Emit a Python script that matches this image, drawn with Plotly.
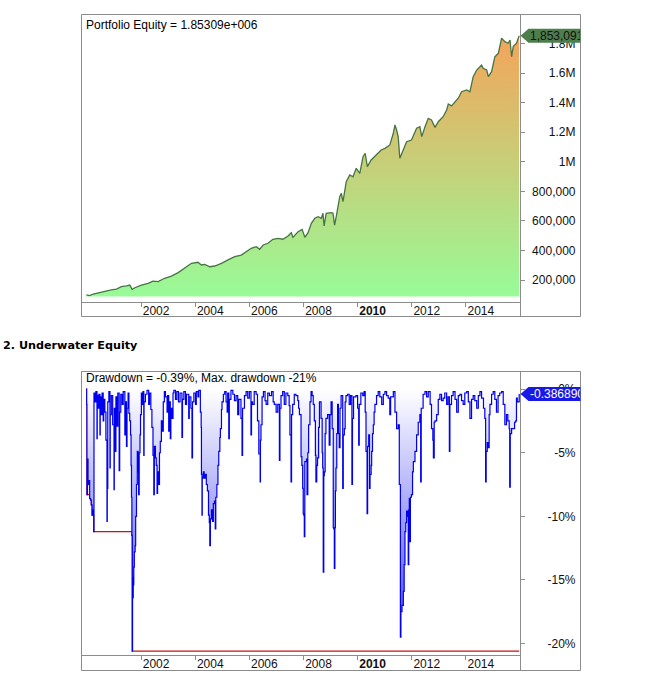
import numpy as np
import plotly.graph_objects as go

# ---------------- data ----------------
EQ_YEARS = [1999.98, 2000.10, 2000.23, 2000.41, 2000.66, 2000.90, 2001.09, 2001.27, 2001.46, 2001.58,
            2001.67, 2001.77, 2002.01, 2002.26, 2002.44, 2002.63, 2002.87, 2003.12, 2003.37, 2003.61,
            2003.86, 2004.10, 2004.23, 2004.35, 2004.54, 2004.72, 2004.97, 2005.21, 2005.46, 2005.70,
            2005.89, 2006.07, 2006.26, 2006.38, 2006.51, 2006.69, 2006.87, 2007.06, 2007.24, 2007.43,
            2007.55, 2007.61, 2007.80, 2007.95, 2008.05, 2008.17, 2008.29, 2008.42, 2008.54, 2008.66,
            2008.72, 2008.76, 2008.84, 2009.03, 2009.09, 2009.15, 2009.21, 2009.34, 2009.40, 2009.46,
            2009.58, 2009.71, 2009.83, 2009.95, 2010.08, 2010.20, 2010.28, 2010.36, 2010.50, 2010.69,
            2010.87, 2011.01, 2011.19, 2011.32, 2011.38, 2011.44, 2011.50, 2011.56, 2011.69, 2011.81,
            2011.99, 2012.18, 2012.30, 2012.37, 2012.49, 2012.61, 2012.73, 2012.86, 2012.98, 2013.16,
            2013.29, 2013.35, 2013.47, 2013.60, 2013.72, 2013.84, 2014.03, 2014.15, 2014.27, 2014.40,
            2014.58, 2014.64, 2014.77, 2014.83, 2014.95, 2015.07, 2015.20, 2015.32, 2015.44, 2015.56,
            2015.63, 2015.69, 2015.75, 2015.87, 2015.97]
EQ_VALUES = [100000, 95000, 105500, 114000, 121000, 133000, 139000, 155000, 160000, 166000,
             137000, 148000, 166000, 178000, 193000, 189000, 212000, 227000, 250000, 279000,
             313000, 320000, 302000, 306000, 290000, 295000, 313000, 336000, 358000, 369000,
             392000, 415000, 426000, 408000, 437000, 449000, 476000, 482000, 476000, 498000,
             520000, 489000, 527000, 543000, 489000, 520000, 584000, 618000, 629000, 618000,
             652000, 566000, 652000, 656000, 652000, 572000, 629000, 764000, 787000, 730000,
             865000, 911000, 899000, 956000, 922000, 1035000, 1058000, 967000, 1012000, 1046000,
             1080000, 1091000, 1114000, 1193000, 1249000, 1215000, 1170000, 1024000, 1080000, 1136000,
             1147000, 1227000, 1237000, 1170000, 1237000, 1294000, 1283000, 1233000, 1271000, 1305000,
             1350000, 1391000, 1378000, 1407000, 1430000, 1474000, 1486000, 1474000, 1576000, 1621000,
             1655000, 1633000, 1621000, 1576000, 1610000, 1711000, 1734000, 1836000, 1813000, 1802000,
             1824000, 1711000, 1779000, 1802000, 1853091]

DD_YEARS = [
    1999.97, 1999.99, 2000.00, 2000.02, 2000.04, 2000.07, 2000.10, 2000.13, 2000.16, 2000.19, 2000.22, 2000.25,
    2000.26, 2000.30, 2000.33, 2000.37, 2000.38, 2000.41, 2000.44, 2000.48, 2000.49, 2000.53, 2000.56, 2000.60,
    2000.62, 2000.66, 2000.70, 2000.74, 2000.75, 2000.77, 2000.81, 2000.85, 2000.86, 2000.90, 2000.95, 2001.00,
    2001.01, 2001.05, 2001.07, 2001.11, 2001.14, 2001.19, 2001.21, 2001.25, 2001.30, 2001.34, 2001.40, 2001.43,
    2001.46, 2001.48, 2001.52, 2001.55,
    2001.58, 2001.61, 2001.63, 2001.645, 2001.66, 2001.675, 2001.685, 2001.695, 2001.71, 2001.73, 2001.75, 2001.78,
    2001.80, 2001.83, 2001.86, 2001.89, 2001.91, 2001.93, 2001.96, 2001.98,
    2002.01, 2002.04, 2002.07, 2002.10, 2002.11, 2002.16, 2002.22, 2002.28, 2002.31, 2002.36, 2002.40, 2002.44,
    2002.47, 2002.49, 2002.53, 2002.56, 2002.59, 2002.61, 2002.65, 2002.68, 2002.71, 2002.75, 2002.78, 2002.82,
    2002.86, 2002.90, 2002.96, 2002.98, 2003.02, 2003.04, 2003.08, 2003.10, 2003.14, 2003.18, 2003.21, 2003.27,
    2003.32, 2003.38, 2003.44, 2003.51, 2003.53, 2003.58, 2003.64, 2003.68, 2003.76, 2003.78, 2003.84, 2003.88,
    2003.90, 2003.95, 2004.01, 2004.04, 2004.10, 2004.13, 2004.19,
    2004.22, 2004.23, 2004.25, 2004.26, 2004.30, 2004.33, 2004.37, 2004.41, 2004.45, 2004.49, 2004.52, 2004.54,
    2004.56, 2004.60, 2004.64, 2004.67, 2004.71, 2004.74, 2004.76, 2004.80, 2004.84, 2004.87, 2004.91, 2004.93,
    2004.97, 2004.99, 2005.04, 2005.09, 2005.14, 2005.18,
    2005.20, 2005.24, 2005.26, 2005.32, 2005.39, 2005.45, 2005.51, 2005.57, 2005.61, 2005.69, 2005.73, 2005.75,
    2005.82, 2005.88, 2005.94, 2006.00, 2006.06, 2006.08, 2006.12, 2006.18, 2006.25, 2006.30, 2006.35, 2006.40,
    2006.41, 2006.43, 2006.47, 2006.52, 2006.58, 2006.62, 2006.68, 2006.74, 2006.82, 2006.88, 2006.92, 2006.99,
    2007.05, 2007.11, 2007.13, 2007.17, 2007.23, 2007.29, 2007.35, 2007.42, 2007.47, 2007.50, 2007.54, 2007.56,
    2007.60, 2007.66, 2007.72, 2007.79, 2007.82, 2007.85, 2007.91, 2007.94, 2007.97, 2007.99, 2008.01, 2008.03,
    2008.05, 2008.09, 2008.11, 2008.13, 2008.16, 2008.19, 2008.24, 2008.28, 2008.32, 2008.36, 2008.40, 2008.44,
    2008.46, 2008.49, 2008.52, 2008.56, 2008.59, 2008.65, 2008.69, 2008.71, 2008.73, 2008.75, 2008.77, 2008.80,
    2008.83, 2008.89, 2008.95, 2008.98, 2009.02, 2009.06, 2009.08, 2009.10, 2009.12, 2009.14, 2009.16, 2009.18,
    2009.20, 2009.23, 2009.26, 2009.29, 2009.32, 2009.35, 2009.39, 2009.45, 2009.47, 2009.51, 2009.54, 2009.57,
    2009.63, 2009.69, 2009.74, 2009.79, 2009.81, 2009.85, 2009.94, 2010.00, 2010.04, 2010.06, 2010.12, 2010.19,
    2010.24, 2010.28, 2010.31, 2010.35, 2010.37, 2010.41, 2010.44, 2010.46,
    2010.50, 2010.52, 2010.55, 2010.58, 2010.61, 2010.64, 2010.70, 2010.76, 2010.82, 2010.89, 2010.95, 2011.01,
    2011.07, 2011.13, 2011.19, 2011.22, 2011.32, 2011.38, 2011.44, 2011.50, 2011.54, 2011.58, 2011.60, 2011.64,
    2011.69, 2011.72, 2011.75, 2011.78, 2011.81, 2011.85, 2011.87, 2011.89, 2011.91, 2011.93, 2011.95, 2011.99,
    2012.03, 2012.06, 2012.12, 2012.18, 2012.24, 2012.30, 2012.33, 2012.35, 2012.42, 2012.49, 2012.55, 2012.61,
    2012.68, 2012.73, 2012.78, 2012.80, 2012.83, 2012.86, 2012.92, 2012.98, 2013.04, 2013.10, 2013.16, 2013.22,
    2013.29, 2013.34, 2013.39, 2013.41, 2013.47, 2013.53, 2013.60, 2013.66, 2013.72, 2013.78, 2013.84, 2013.90,
    2013.96, 2014.03, 2014.09, 2014.15, 2014.21, 2014.27, 2014.33, 2014.40, 2014.46, 2014.52, 2014.58, 2014.65,
    2014.70, 2014.73, 2014.75, 2014.79, 2014.83, 2014.86, 2014.89, 2014.95, 2015.01, 2015.07, 2015.13, 2015.19,
    2015.25, 2015.32, 2015.38, 2015.44, 2015.50, 2015.55, 2015.60, 2015.62, 2015.64, 2015.69, 2015.75, 2015.80,
    2015.84, 2015.87, 2015.90, 2015.97]
DD_VALUES = [
    0.0, -1.2, -8.3, -5.5, -7.5, -7.2, -8.6, -8.7, -9.1, -9.9, -9.5, -11.2,
    -0.3, -1.0, -0.2, -3.9, -0.5, -1.5, -0.4, -3.6, -0.6, -2.0, -0.3, -2.5,
    -0.8, -1.8, -4.0, -10.4, -7.8, -1.0, -0.2, -6.2, -2.0, -0.5, -2.8, -7.9,
    -1.5, -4.9, -0.6, -2.9, -0.3, -6.4, -1.8, -0.4, -1.2, -0.2, -3.6, -1.0,
    -4.5, -1.5, -0.3, -1.9,
    -2.5, -3.6, -6.0, -8.5, -11.5, -20.6, -14.8, -16.4, -15.4, -14.0, -12.8, -12.3,
    -10.0, -7.5, -4.9, -6.5, -8.3, -5.0, -3.6, -2.0,
    -0.3, -1.2, -0.2, -5.2, -1.0, -0.4, -0.1, -1.2, -0.3, -1.6, -3.0, -5.2,
    -8.3, -4.5, -5.4, -6.0, -8.2, -6.5, -7.5, -5.0, -4.1, -2.5, -3.3, -1.0,
    -0.2, -0.6, -1.8, -0.5, -3.3, -1.0, -3.9, -1.5, -2.3, -0.3, -0.1, -0.8,
    -0.2, -1.0, -0.3, -3.8, -0.8, -0.2, -1.2, -0.4, -2.3, -0.6, -1.5, -5.4,
    -1.0, -0.3, -1.2, -0.2, -0.6, -0.1, -1.8,
    -3.0, -6.7, -9.9, -7.0, -6.5, -7.0, -6.7, -7.5, -8.0, -9.9, -10.5, -12.3,
    -10.2, -9.5, -10.4, -9.0, -8.8, -11.0, -8.5, -7.5, -6.0, -4.9, -3.8, -3.1,
    -1.6, -1.0, -0.4, -0.2, -1.0, -1.8,
    -0.3, -3.9, -0.8, -0.1, -0.4, -0.9, -0.5, -2.0, -0.8, -2.3, -5.2, -1.5,
    -0.5, -0.2, -0.7, -0.2, -3.6, -1.0, -1.2, -0.2, -0.4, -2.5, -5.1, -7.3,
    -4.0, -2.8, -0.6, -0.2, -0.9, -1.2, -0.3, -0.5, -0.2, -1.0, -1.2, -1.8,
    -1.2, -5.6, -1.5, -0.5, -0.2, -1.2, -0.3, -0.5, -1.3, -3.6, -7.3, -2.0,
    -1.2, -0.4, -0.5, -0.9, -1.5, -2.0, -5.3, -6.0, -7.8, -9.8, -9.9, -11.6,
    -5.7, -5.7, -5.5, -8.3, -5.0, -2.8, -1.0, -0.2, -0.5, -1.2, -2.5, -5.2,
    -7.3, -6.0, -5.4, -3.0, -1.0, -2.3, -5.0, -6.2, -14.4, -6.8, -6.5, -3.5,
    -2.3, -2.0, -4.4, -2.0, -1.0, -3.1, -3.1, -10.9, -11.0, -14.1, -10.9, -8.0,
    -6.2, -3.5, -1.2, -3.5, -4.6, -1.5, -0.5, -7.8, -3.6, -3.1, -1.0, -0.5,
    -0.4, -1.2, -0.5, -7.5, -2.3, -0.6, -0.5, -1.5, -4.4, -1.2, -0.3, -0.5,
    -0.2, -1.8, -4.9, -9.8, -4.5, -3.6, -7.8, -6.7,
    -6.0, -4.9, -3.5, -2.8, -1.8, -1.2, -0.5, -0.2, -0.6, -1.2, -0.4, -0.2,
    -0.5, -0.7, -2.0, -0.6, -0.2, -1.8, -3.1, -2.8, -7.5, -19.5, -17.5, -17.0,
    -15.9, -13.8, -11.2, -10.5, -9.6, -10.0, -13.8, -9.5, -8.6, -12.0, -8.5, -8.3,
    -6.5, -5.7, -4.9, -3.6, -2.6, -2.0, -7.3, -1.5, -0.4, -0.2, -0.6, -0.2,
    -1.2, -3.1, -4.0, -5.4, -2.6, -2.5, -2.0, -0.8, -0.4, -0.9, -0.7, -0.3,
    -1.2, -0.6, -4.9, -1.2, -0.5, -0.2, -0.8, -1.8, -0.5, -0.4, -0.9, -1.2,
    -0.3, -0.2, -1.0, -2.3, -0.8, -0.5, -0.9, -1.5, -0.5, -0.2, -0.7, -1.5,
    -2.3, -7.3, -4.9, -4.2, -4.6, -2.0, -1.2, -0.4, -0.2, -0.8, -1.8, -0.5,
    -0.3, -0.2, -1.2, -2.8, -2.0, -2.5, -3.1, -7.7, -3.5, -3.1, -3.1, -2.6,
    -2.5, -0.7, -1.0, -0.38689]

YEAR_TICKS = [2002, 2004, 2006, 2008, 2010, 2012, 2014]
YEAR_LABELS = ["2002", "2004", "2006", "2008", "<b>2010</b>", "2012", "2014"]
EQ_TICKS = [200000, 400000, 600000, 800000, 1000000, 1200000, 1400000, 1600000, 1800000]
EQ_TICK_LABELS = ["200,000", "400,000", "600,000", "800,000", "1M", "1.2M", "1.4M", "1.6M", "1.8M"]
DD_TICKS = [-20, -15, -10, -5, 0]
DD_TICK_LABELS = ["-20%", "-15%", "-10%", "-5%", "0%"]

assert len(EQ_YEARS) == len(EQ_VALUES)
assert len(DD_YEARS) == len(DD_VALUES), (len(DD_YEARS), len(DD_VALUES))

# ---------------- layout helpers ----------------
W, H = 660, 682
def PX(x):
    return x / W
def PY(y):
    return 1 - y / H

FONT = "Liberation Sans, Arial, sans-serif"
GRAY = "#8c8c8c"
X_RANGE = [1999.78, 2016.0]

fig = go.Figure()

# Equity area
base = min(EQ_VALUES) * 0.93
fig.add_trace(go.Scatter(x=EQ_YEARS, y=[base] * len(EQ_YEARS), mode="lines",
                         line=dict(width=0), hoverinfo="skip", showlegend=False,
                         xaxis="x", yaxis="y"))
fig.add_trace(go.Scatter(x=EQ_YEARS, y=EQ_VALUES, mode="lines",
                         line=dict(color="#467444", width=1.3),
                         fill="tonexty",
                         fillgradient=dict(type="vertical",
                                           colorscale=[[0, "#98FB98"], [1, "#F4A45A"]],
                                           start=base, stop=max(EQ_VALUES)),
                         showlegend=False, xaxis="x", yaxis="y"))
# helper traces for label axes
fig.add_trace(go.Scatter(x=[EQ_YEARS[-1]], y=[EQ_VALUES[-1]], mode="markers",
                         marker=dict(opacity=0), hoverinfo="skip", showlegend=False,
                         xaxis="x", yaxis="y3"))

# Drawdown
max_dd = np.minimum.accumulate(np.array(DD_VALUES))
fig.add_trace(go.Scatter(x=DD_YEARS, y=max_dd, mode="lines",
                         line=dict(color="#cc1010", width=1.2, shape="hv"),
                         showlegend=False, xaxis="x2", yaxis="y2"))
fig.add_trace(go.Scatter(x=DD_YEARS, y=DD_VALUES, mode="lines",
                         line=dict(color="#0000ee", width=1.2, shape="hv"),
                         fill="tozeroy",
                         fillgradient=dict(type="vertical",
                                           colorscale=[[0, "#3a3af2"], [1, "#ffffff"]],
                                           start=-21, stop=0),
                         showlegend=False, xaxis="x2", yaxis="y2"))
fig.add_trace(go.Scatter(x=[DD_YEARS[-1]], y=[DD_VALUES[-1]], mode="markers",
                         marker=dict(opacity=0), hoverinfo="skip", showlegend=False,
                         xaxis="x2", yaxis="y4"))

xdom = [PX(81), PX(520)]
top_dom = [PY(302), PY(14)]
bot_dom = [PY(655), PY(371)]
eq_range = [51400, 2000000]
dd_range = [-20.91, 1.43]

xcommon = dict(range=X_RANGE, tickvals=YEAR_TICKS, ticktext=YEAR_LABELS, ticks="outside",
               ticklen=4, tickcolor=GRAY, showgrid=False, zeroline=False, showline=False,
               tickfont=dict(family=FONT, size=12, color="#111"),
               ticklabelshift=15, ticklabelstandoff=-6, fixedrange=True)
ycommon = dict(side="right", ticks="outside", ticklen=4, tickcolor=GRAY, showgrid=False,
               zeroline=False, showline=False, showticklabels=False)
ylab = dict(side="left", anchor="free", position=PX(575.5), ticks="", showgrid=False,
            zeroline=False, showline=False, tickfont=dict(family=FONT, size=12, color="#111"))

fig.update_layout(
    width=W, height=H, margin=dict(l=0, r=0, t=0, b=0),
    paper_bgcolor="white", plot_bgcolor="rgba(0,0,0,0)",
    xaxis=dict(domain=xdom, anchor="y", **xcommon),
    xaxis2=dict(domain=xdom, anchor="y2", **xcommon),
    yaxis=dict(domain=top_dom, anchor="x", range=eq_range, tickvals=EQ_TICKS, **ycommon),
    yaxis2=dict(domain=bot_dom, anchor="x2", range=dd_range, tickvals=DD_TICKS, **ycommon),
    yaxis3=dict(overlaying="y", range=eq_range, tickvals=EQ_TICKS, ticktext=EQ_TICK_LABELS, **ylab),
    yaxis4=dict(overlaying="y2", range=dd_range, tickvals=DD_TICKS, ticktext=DD_TICK_LABELS, **ylab),
    showlegend=False,
)

shapes = []
for (top, axis_y, bottom) in [(14.5, 302.5, 316.5), (371.5, 655.5, 670.5)]:
    shapes.append(dict(type="rect", xref="paper", yref="paper", x0=PX(81.5), x1=PX(580.5),
                       y0=PY(top), y1=PY(bottom), line=dict(color=GRAY, width=1)))
    shapes.append(dict(type="line", xref="paper", yref="paper", x0=PX(520.5), x1=PX(520.5),
                       y0=PY(top), y1=PY(bottom), line=dict(color=GRAY, width=1)))
    shapes.append(dict(type="line", xref="paper", yref="paper", x0=PX(81.5), x1=PX(520.5),
                       y0=PY(axis_y), y1=PY(axis_y), line=dict(color=GRAY, width=1)))

tag_path = "M0,0 L8,7 L60,7 L60,-7 L8,-7 Z"
shapes.append(dict(type="path", xref="paper", yref="y", xsizemode="pixel", ysizemode="pixel",
                   xanchor=PX(520.5), yanchor=EQ_VALUES[-1], path=tag_path,
                   fillcolor="#4e7e4c", line=dict(width=0), layer="above"))
shapes.append(dict(type="path", xref="paper", yref="y2", xsizemode="pixel", ysizemode="pixel",
                   xanchor=PX(520.5), yanchor=DD_VALUES[-1], path=tag_path,
                   fillcolor="#1818e8", line=dict(width=0), layer="above"))
fig.update_layout(shapes=shapes)

annotations = [
    dict(text=f"{EQ_VALUES[-1]:,.0f}", xref="paper", yref="y", x=PX(529), y=EQ_VALUES[-1],
         xanchor="left", yanchor="middle", showarrow=False, width=50, align="left", borderpad=0,
         font=dict(family=FONT, size=12, color="#111")),
    dict(text=f"{DD_VALUES[-1]:.6f}", xref="paper", yref="y2", x=PX(529), y=DD_VALUES[-1],
         xanchor="left", yanchor="middle", showarrow=False, width=50, align="left", borderpad=0,
         font=dict(family=FONT, size=12, color="white")),
    dict(text="Portfolio Equity = 1.85309e+006", xref="paper", yref="paper", x=PX(84), y=PY(25),
         xanchor="left", yanchor="middle", showarrow=False,
         font=dict(family=FONT, size=12, color="#000")),
    dict(text="Drawdown = -0.39%, Max. drawdown -21%", xref="paper", yref="paper", x=PX(84), y=PY(378),
         xanchor="left", yanchor="middle", showarrow=False,
         font=dict(family=FONT, size=12, color="#000")),
    dict(text="<b>2. Underwater Equity</b>", xref="paper", yref="paper", x=PX(1), y=PY(345),
         xanchor="left", yanchor="middle", showarrow=False,
         font=dict(family="DejaVu Sans, Verdana, sans-serif", size=11.2, color="#000")),
]
fig.update_layout(annotations=annotations)

fig.write_html("out.html")
